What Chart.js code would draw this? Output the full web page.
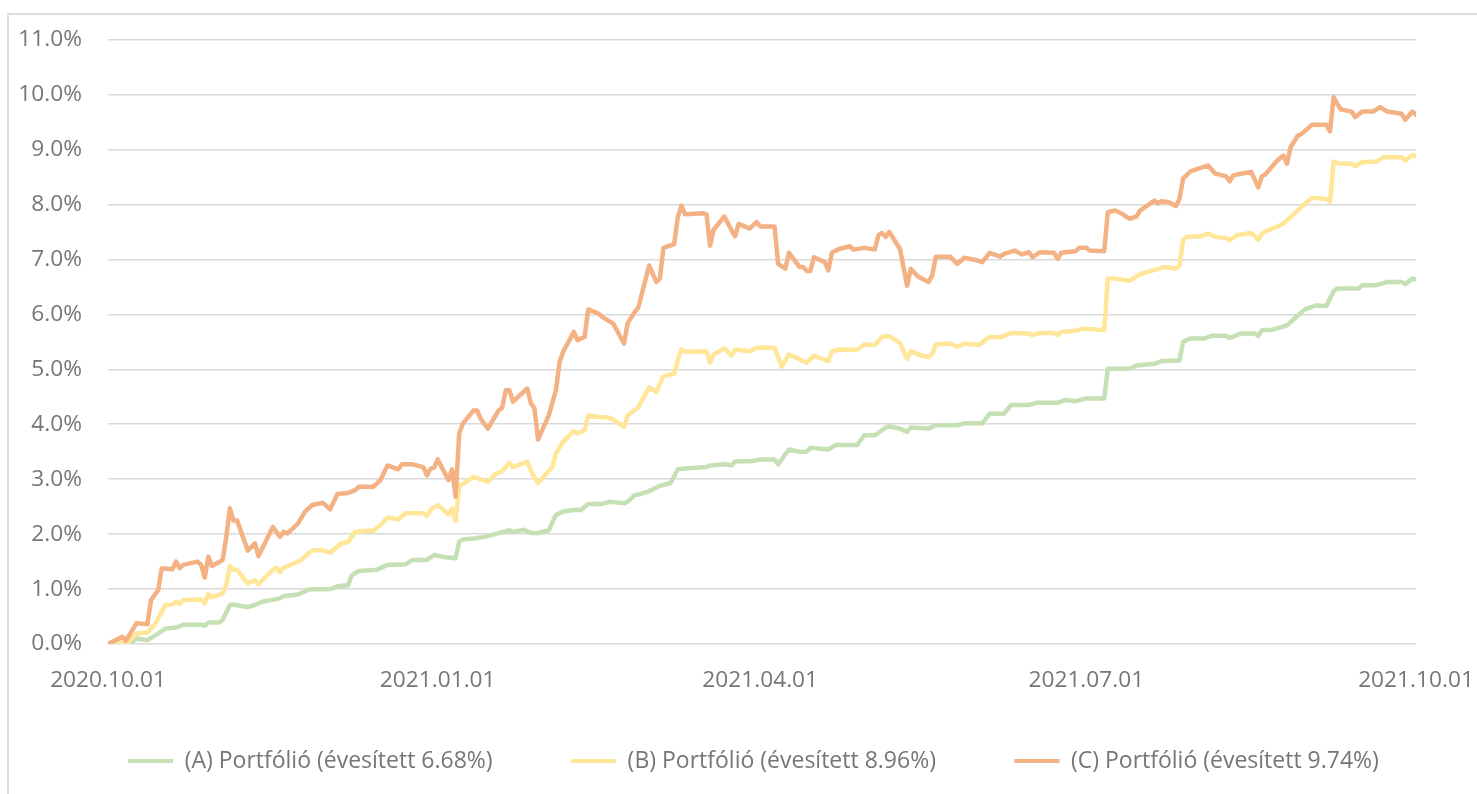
<!DOCTYPE html>
<html><head><meta charset="utf-8">
<script src="https://cdn.jsdelivr.net/npm/chart.js@4.4.1/dist/chart.umd.min.js"></script>
<style>
html,body{margin:0;padding:0;background:#fff;overflow:hidden;}
#wrap{position:relative;width:1477px;height:794px;overflow:hidden;background:#fff;}
#frame{position:absolute;left:7px;top:13px;width:1560px;height:830px;border:2px solid #dcdcdc;box-sizing:border-box;}
canvas{position:absolute;left:0;top:0;}
</style></head><body>
<div id="wrap"><div id="frame"></div><canvas id="c" width="1499" height="794"></canvas></div>
<script>
// x values: days elapsed since 2020.10.01
const tickDays = [0, 92, 182, 273, 365];
const tickLabels = ['2020.10.01', '2021.01.01', '2021.04.01', '2021.07.01', '2021.10.01'];
const seriesNames = ['(A) Portfólió (évesített 6.68%)', '(B) Portfólió (évesített 8.96%)', '(C) Portfólió (évesített 9.74%)'];
const seriesColors = ['#c5e0b4', '#ffe699', '#f4b183'];

const daysA = [0,6,8,11,14,16,19,21,26,27,28,31,32,34,35,39,41,43,48,49,53,56,62,64,67,68,70,75,78,83,85,89,91,94,97,98,99,102,105,108,112,113,116,118,120,123,125,127,130,132,134,138,140,144,145,147,148,151,154,157,159,160,167,168,172,174,175,180,182,186,187,190,193,195,196,201,203,209,211,214,217,218,221,223,224,229,231,237,239,244,246,250,252,257,259,265,267,270,273,278,279,285,287,292,294,299,300,302,306,308,312,313,316,320,321,322,325,329,331,334,337,340,342,343,349,350,354,357,361,362,364,365];
const valuesA = [0.00,0.00,0.10,0.07,0.19,0.28,0.30,0.35,0.35,0.33,0.39,0.39,0.44,0.71,0.72,0.67,0.71,0.77,0.83,0.87,0.90,0.99,1.00,1.05,1.07,1.25,1.33,1.35,1.44,1.45,1.53,1.53,1.62,1.58,1.56,1.86,1.90,1.92,1.95,2.00,2.07,2.04,2.08,2.02,2.02,2.07,2.35,2.41,2.44,2.44,2.55,2.55,2.59,2.56,2.59,2.71,2.72,2.78,2.88,2.93,3.18,3.19,3.22,3.25,3.27,3.25,3.32,3.33,3.36,3.36,3.27,3.54,3.50,3.50,3.57,3.54,3.62,3.62,3.80,3.80,3.94,3.96,3.92,3.86,3.94,3.92,3.98,3.98,4.02,4.02,4.19,4.19,4.35,4.35,4.39,4.39,4.44,4.42,4.47,4.47,5.01,5.01,5.07,5.10,5.15,5.16,5.50,5.56,5.56,5.61,5.61,5.57,5.65,5.65,5.61,5.71,5.72,5.80,5.92,6.09,6.16,6.15,6.42,6.47,6.47,6.53,6.53,6.59,6.59,6.55,6.65,6.64];

const daysB = [0,3,5,8,11,13,15,16,18,19,20,21,26,27,28,29,32,33,34,35,36,39,41,42,46,47,48,49,51,54,56,57,60,62,65,67,69,72,74,76,78,81,83,88,89,90,92,95,96,97,98,100,102,106,108,110,112,113,117,118,120,124,125,127,130,131,133,134,137,140,142,144,145,148,151,153,155,158,159,160,161,167,168,169,172,174,175,179,181,186,188,190,193,195,197,201,202,204,209,211,214,216,218,221,223,224,227,229,230,231,235,237,239,243,246,249,252,257,258,260,264,265,266,270,272,278,279,281,285,288,292,295,298,299,300,301,305,307,309,312,313,315,319,321,322,323,326,328,330,334,336,340,341,342,344,347,348,350,354,356,361,362,364,365];
const valuesB = [0.00,0.04,0.00,0.19,0.21,0.35,0.59,0.71,0.72,0.77,0.73,0.80,0.81,0.74,0.91,0.85,0.92,1.07,1.42,1.35,1.35,1.10,1.16,1.09,1.35,1.39,1.31,1.39,1.44,1.53,1.66,1.70,1.71,1.66,1.83,1.86,2.04,2.06,2.06,2.16,2.30,2.27,2.38,2.38,2.33,2.44,2.53,2.36,2.47,2.24,2.87,2.95,3.04,2.95,3.09,3.15,3.30,3.22,3.32,3.15,2.93,3.22,3.47,3.68,3.88,3.83,3.89,4.16,4.13,4.12,4.04,3.95,4.16,4.31,4.67,4.59,4.87,4.92,5.16,5.36,5.32,5.33,5.12,5.27,5.38,5.25,5.36,5.33,5.39,5.39,5.05,5.27,5.18,5.12,5.25,5.15,5.32,5.36,5.35,5.45,5.44,5.59,5.60,5.48,5.19,5.33,5.25,5.22,5.28,5.45,5.47,5.41,5.47,5.44,5.59,5.58,5.66,5.65,5.62,5.66,5.66,5.62,5.68,5.70,5.74,5.71,6.65,6.65,6.61,6.73,6.81,6.86,6.83,6.88,7.35,7.41,7.42,7.47,7.41,7.39,7.35,7.44,7.48,7.36,7.47,7.51,7.59,7.65,7.77,8.01,8.12,8.10,8.05,8.78,8.74,8.74,8.70,8.77,8.78,8.86,8.86,8.80,8.90,8.88];

const daysC = [0,4,5,8,11,12,14,15,18,19,20,21,25,26,27,28,29,32,33,34,35,36,39,41,42,46,48,49,50,53,55,57,60,62,64,67,69,70,74,76,78,81,82,85,88,89,90,91,92,95,96,97,98,99,102,103,104,106,109,110,111,112,113,117,118,119,120,123,125,126,127,130,131,133,134,137,138,141,142,144,145,147,148,151,153,154,155,158,159,160,161,166,167,168,169,172,174,175,176,179,181,182,186,187,189,190,193,194,195,196,197,200,201,202,204,207,208,211,214,215,216,217,218,221,223,224,226,229,230,231,235,237,239,242,244,246,249,250,253,255,257,258,260,264,265,266,270,271,273,274,278,279,281,283,285,287,288,292,293,294,296,298,299,300,302,307,309,312,313,314,316,319,321,322,323,326,328,329,330,332,333,336,340,341,342,344,347,348,350,353,355,357,361,362,364,365];
const valuesC = [0.00,0.13,0.06,0.38,0.36,0.80,0.98,1.38,1.36,1.50,1.38,1.44,1.50,1.44,1.21,1.59,1.42,1.53,1.95,2.47,2.25,2.25,1.70,1.83,1.60,2.13,1.95,2.04,2.01,2.19,2.41,2.53,2.57,2.45,2.73,2.75,2.80,2.86,2.86,2.98,3.25,3.18,3.27,3.27,3.22,3.07,3.19,3.21,3.36,2.98,3.18,2.68,3.83,4.01,4.25,4.25,4.10,3.92,4.25,4.30,4.62,4.62,4.41,4.65,4.38,4.29,3.72,4.16,4.62,5.13,5.32,5.68,5.53,5.59,6.09,6.01,5.95,5.83,5.71,5.47,5.84,6.04,6.13,6.89,6.59,6.65,7.21,7.28,7.77,7.98,7.82,7.84,7.82,7.25,7.54,7.78,7.53,7.42,7.65,7.56,7.68,7.60,7.60,6.92,6.83,7.12,6.86,6.86,6.79,6.79,7.04,6.95,6.80,7.12,7.19,7.24,7.18,7.21,7.18,7.44,7.48,7.41,7.50,7.19,6.52,6.83,6.69,6.59,6.71,7.05,7.05,6.92,7.03,6.99,6.95,7.12,7.05,7.10,7.16,7.09,7.13,7.04,7.13,7.12,7.01,7.12,7.15,7.21,7.21,7.16,7.15,7.86,7.89,7.83,7.74,7.78,7.89,8.07,8.02,8.06,8.04,7.97,8.10,8.47,8.60,8.71,8.56,8.51,8.42,8.53,8.56,8.59,8.31,8.51,8.55,8.78,8.89,8.74,9.04,9.25,9.28,9.45,9.45,9.33,9.95,9.73,9.69,9.59,9.69,9.69,9.77,9.69,9.65,9.54,9.69,9.63];

const toXY = (days, vals) => days.map((d, i) => ({ x: d, y: vals[i] }));
const textColor = '#767676';
const tickFont = { family: 'Open Sans', size: 22.7 };

const series = [
  { days: daysA, vals: valuesA },
  { days: daysB, vals: valuesB },
  { days: daysC, vals: valuesC }
];

new Chart(document.getElementById('c'), {
  type: 'line',
  data: {
    datasets: series.map((s, i) => ({
      label: seriesNames[i],
      data: toXY(s.days, s.vals),
      borderColor: seriesColors[i],
      backgroundColor: seriesColors[i],
      order: 2 - i,
      yAxisID: 'y'
    }))
  },
  options: {
    responsive: false,
    animation: false,
    devicePixelRatio: 1,
    elements: {
      line: { borderWidth: 4.5, tension: 0, borderJoinStyle: 'round', borderCapStyle: 'round', fill: false },
      point: { radius: 0, hoverRadius: 0 }
    },
    layout: { padding: { left: 8, top: 39, right: 0, bottom: 11.5 } },
    scales: {
      x: {
        type: 'linear', min: 0, max: 365,
        grid: { display: false, drawTicks: false },
        border: { display: false },
        afterBuildTicks: (s) => { s.ticks = tickDays.map(v => ({ value: v })); },
        afterFit: (s) => { s.height = 27; },
        ticks: {
          autoSkip: false, maxRotation: 0, mirror: true, padding: -50.6,
          color: textColor, font: tickFont,
          callback: (v, i) => tickLabels[i]
        }
      },
      y: {
        position: 'left',
        min: 0, max: 11,
        afterFit: (s) => { s.width = 100; },
        grid: { color: '#d9d9d9', lineWidth: 1.5, drawTicks: false },
        border: { display: false },
        ticks: {
          stepSize: 1, padding: 26, color: textColor, font: tickFont,
          callback: (v) => v.toFixed(1) + '%'
        }
      },
      yR: {
        position: 'right',
        afterFit: (s) => { s.width = 83; },
        grid: { display: false, drawTicks: false },
        border: { display: false },
        ticks: { display: false }
      }
    },
    plugins: {
      tooltip: { enabled: false },
      legend: {
        position: 'bottom',
        labels: {
          boxWidth: 45, boxHeight: 4, padding: 78.5,
          color: textColor, font: { family: 'Open Sans', size: 23 },
          generateLabels: (chart) => Chart.defaults.plugins.legend.labels.generateLabels(chart).map(l => Object.assign(l, { lineWidth: 0 })),
          sort: (a, b) => a.datasetIndex - b.datasetIndex
        }
      }
    }
  }
});
</script>
</body></html>
